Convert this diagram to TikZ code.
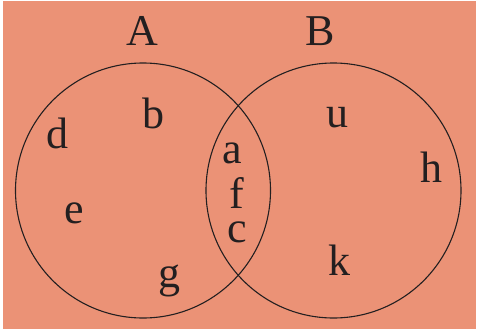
\documentclass[tikz,border=0pt]{standalone}
\usepackage{fontspec}
\setmainfont{Liberation Serif}
\definecolor{salmon}{RGB}{235,146,118}
\definecolor{ink}{RGB}{35,31,32}
\begin{document}
\begin{tikzpicture}[x=1pt,y=-1pt,
  setc/.style={circle,draw=ink,line width=1.1pt,minimum size=255pt,inner sep=0pt},
  lbl/.style={anchor=base,inner sep=0pt,text=ink,font=\fontsize{44}{44}\selectfont},
  elt/.style={anchor=base,inner sep=0pt,text=ink,font=\fontsize{44}{44}\selectfont}]
\useasboundingbox (0,0) rectangle (477,330);
\fill[white] (0,0) rectangle (477,330);
\fill[salmon] (3,1) rectangle (476,329);
\node[setc] (A) at (143,190.5) {};
\node[setc] (B) at (333.5,190.5) {};
\node[lbl] (la) at (142,45) {A};
\node[lbl] (lb) at (320,45) {B};
\node[elt] (b) at (153,128) {b};
\node[elt] (d) at (57,148) {d};
\node[elt] (u) at (337,127) {u};
\node[elt] (a) at (232,163) {a};
\node[elt] (h) at (431,182) {h};
\node[elt] (f) at (237,208) {f};
\node[elt] (e) at (74,223) {e};
\node[elt] (c) at (237,242) {c};
\node[elt] (k) at (339,275) {k};
\node[elt] (g) at (169,287) {g};
\end{tikzpicture}
\end{document}
